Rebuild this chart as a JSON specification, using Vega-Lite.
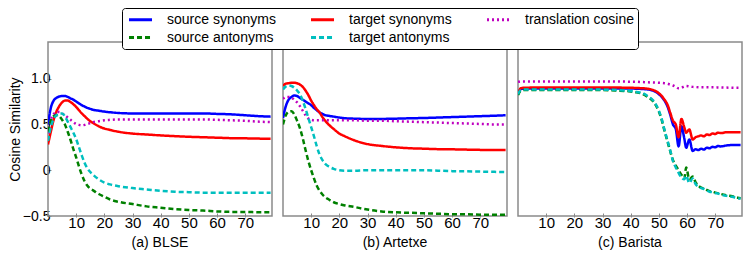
{
  "$schema": "https://vega.github.io/schema/vega-lite/v6.json",
  "background": "white",
  "padding": {"left": 8, "top": 7, "right": 5, "bottom": 5},
  "data": {"values": [
    {"m":"(a) BLSE","x":0,"ss":0.50,"ts":0.28,"tc":0.40,"sa":0.42,"ta":0.32},
    {"m":"(a) BLSE","x":1,"ss":0.68,"ts":0.42,"tc":0.55,"sa":0.54,"ta":0.47},
    {"m":"(a) BLSE","x":2,"ss":0.76,"ts":0.55,"tc":0.61,"sa":0.59,"ta":0.56},
    {"m":"(a) BLSE","x":3,"ss":0.79,"ts":0.64,"tc":0.635,"sa":0.60,"ta":0.60},
    {"m":"(a) BLSE","x":4,"ss":0.805,"ts":0.70,"tc":0.635,"sa":0.59,"ta":0.62},
    {"m":"(a) BLSE","x":5,"ss":0.81,"ts":0.74,"tc":0.62,"sa":0.55,"ta":0.62},
    {"m":"(a) BLSE","x":6,"ss":0.81,"ts":0.76,"tc":0.60,"sa":0.50,"ta":0.59},
    {"m":"(a) BLSE","x":7,"ss":0.80,"ts":0.76,"tc":0.575,"sa":0.42,"ta":0.53},
    {"m":"(a) BLSE","x":8,"ss":0.785,"ts":0.745,"tc":0.55,"sa":0.33,"ta":0.47},
    {"m":"(a) BLSE","x":9,"ss":0.77,"ts":0.72,"tc":0.525,"sa":0.23,"ta":0.41},
    {"m":"(a) BLSE","x":10,"ss":0.75,"ts":0.69,"tc":0.505,"sa":0.14,"ta":0.34},
    {"m":"(a) BLSE","x":11,"ss":0.73,"ts":0.655,"tc":0.495,"sa":0.04,"ta":0.25},
    {"m":"(a) BLSE","x":12,"ss":0.71,"ts":0.62,"tc":0.49,"sa":-0.05,"ta":0.16},
    {"m":"(a) BLSE","x":13,"ss":0.695,"ts":0.59,"tc":0.495,"sa":-0.12,"ta":0.08},
    {"m":"(a) BLSE","x":14,"ss":0.68,"ts":0.56,"tc":0.505,"sa":-0.17,"ta":0.02},
    {"m":"(a) BLSE","x":15,"ss":0.67,"ts":0.535,"tc":0.515,"sa":-0.20,"ta":-0.02},
    {"m":"(a) BLSE","x":16,"ss":0.66,"ts":0.515,"tc":0.525,"sa":-0.22,"ta":-0.05},
    {"m":"(a) BLSE","x":18,"ss":0.65,"ts":0.48,"tc":0.535,"sa":-0.26,"ta":-0.10},
    {"m":"(a) BLSE","x":20,"ss":0.64,"ts":0.455,"tc":0.545,"sa":-0.29,"ta":-0.135},
    {"m":"(a) BLSE","x":22,"ss":0.633,"ts":0.44,"tc":0.55,"sa":-0.32,"ta":-0.155},
    {"m":"(a) BLSE","x":25,"ss":0.625,"ts":0.42,"tc":0.555,"sa":-0.345,"ta":-0.175},
    {"m":"(a) BLSE","x":30,"ss":0.62,"ts":0.40,"tc":0.555,"sa":-0.37,"ta":-0.195},
    {"m":"(a) BLSE","x":35,"ss":0.62,"ts":0.39,"tc":0.555,"sa":-0.395,"ta":-0.21},
    {"m":"(a) BLSE","x":40,"ss":0.62,"ts":0.38,"tc":0.555,"sa":-0.41,"ta":-0.225},
    {"m":"(a) BLSE","x":45,"ss":0.62,"ts":0.372,"tc":0.555,"sa":-0.425,"ta":-0.235},
    {"m":"(a) BLSE","x":50,"ss":0.62,"ts":0.365,"tc":0.555,"sa":-0.435,"ta":-0.24},
    {"m":"(a) BLSE","x":55,"ss":0.62,"ts":0.36,"tc":0.555,"sa":-0.44,"ta":-0.245},
    {"m":"(a) BLSE","x":60,"ss":0.615,"ts":0.355,"tc":0.55,"sa":-0.45,"ta":-0.245},
    {"m":"(a) BLSE","x":65,"ss":0.61,"ts":0.35,"tc":0.545,"sa":-0.455,"ta":-0.245},
    {"m":"(a) BLSE","x":70,"ss":0.60,"ts":0.348,"tc":0.54,"sa":-0.455,"ta":-0.245},
    {"m":"(a) BLSE","x":75,"ss":0.59,"ts":0.345,"tc":0.53,"sa":-0.46,"ta":-0.245},
    {"m":"(a) BLSE","x":79,"ss":0.585,"ts":0.343,"tc":0.525,"sa":-0.46,"ta":-0.245},
    {"m":"(b) Artetxe","x":0,"ss":0.57,"ts":0.92,"tc":0.78,"sa":0.50,"ta":0.88},
    {"m":"(b) Artetxe","x":1,"ss":0.70,"ts":0.945,"tc":0.80,"sa":0.60,"ta":0.915},
    {"m":"(b) Artetxe","x":2,"ss":0.77,"ts":0.95,"tc":0.80,"sa":0.64,"ta":0.925},
    {"m":"(b) Artetxe","x":3,"ss":0.80,"ts":0.955,"tc":0.79,"sa":0.645,"ta":0.92},
    {"m":"(b) Artetxe","x":4,"ss":0.815,"ts":0.955,"tc":0.77,"sa":0.61,"ta":0.90},
    {"m":"(b) Artetxe","x":5,"ss":0.81,"ts":0.95,"tc":0.74,"sa":0.54,"ta":0.87},
    {"m":"(b) Artetxe","x":6,"ss":0.79,"ts":0.935,"tc":0.70,"sa":0.46,"ta":0.83},
    {"m":"(b) Artetxe","x":7,"ss":0.77,"ts":0.91,"tc":0.65,"sa":0.35,"ta":0.76},
    {"m":"(b) Artetxe","x":8,"ss":0.75,"ts":0.87,"tc":0.60,"sa":0.22,"ta":0.67},
    {"m":"(b) Artetxe","x":9,"ss":0.73,"ts":0.82,"tc":0.565,"sa":0.10,"ta":0.57},
    {"m":"(b) Artetxe","x":10,"ss":0.71,"ts":0.76,"tc":0.55,"sa":0.0,"ta":0.47},
    {"m":"(b) Artetxe","x":11,"ss":0.68,"ts":0.71,"tc":0.545,"sa":-0.09,"ta":0.37},
    {"m":"(b) Artetxe","x":12,"ss":0.655,"ts":0.665,"tc":0.545,"sa":-0.17,"ta":0.26},
    {"m":"(b) Artetxe","x":13,"ss":0.63,"ts":0.63,"tc":0.545,"sa":-0.225,"ta":0.17},
    {"m":"(b) Artetxe","x":14,"ss":0.615,"ts":0.58,"tc":0.545,"sa":-0.265,"ta":0.11},
    {"m":"(b) Artetxe","x":15,"ss":0.60,"ts":0.54,"tc":0.545,"sa":-0.295,"ta":0.07},
    {"m":"(b) Artetxe","x":16,"ss":0.595,"ts":0.505,"tc":0.545,"sa":-0.315,"ta":0.045},
    {"m":"(b) Artetxe","x":18,"ss":0.585,"ts":0.45,"tc":0.545,"sa":-0.35,"ta":0.015},
    {"m":"(b) Artetxe","x":20,"ss":0.575,"ts":0.40,"tc":0.545,"sa":-0.37,"ta":0.0},
    {"m":"(b) Artetxe","x":22,"ss":0.568,"ts":0.37,"tc":0.545,"sa":-0.385,"ta":-0.005},
    {"m":"(b) Artetxe","x":25,"ss":0.563,"ts":0.33,"tc":0.545,"sa":-0.40,"ta":-0.005},
    {"m":"(b) Artetxe","x":30,"ss":0.56,"ts":0.285,"tc":0.54,"sa":-0.43,"ta":0.0},
    {"m":"(b) Artetxe","x":35,"ss":0.56,"ts":0.265,"tc":0.54,"sa":-0.45,"ta":0.0},
    {"m":"(b) Artetxe","x":40,"ss":0.563,"ts":0.25,"tc":0.535,"sa":-0.46,"ta":0.0},
    {"m":"(b) Artetxe","x":45,"ss":0.567,"ts":0.24,"tc":0.53,"sa":-0.465,"ta":0.0},
    {"m":"(b) Artetxe","x":50,"ss":0.57,"ts":0.235,"tc":0.525,"sa":-0.47,"ta":0.0},
    {"m":"(b) Artetxe","x":55,"ss":0.575,"ts":0.23,"tc":0.52,"sa":-0.475,"ta":-0.005},
    {"m":"(b) Artetxe","x":60,"ss":0.58,"ts":0.228,"tc":0.515,"sa":-0.48,"ta":-0.01},
    {"m":"(b) Artetxe","x":65,"ss":0.585,"ts":0.225,"tc":0.51,"sa":-0.48,"ta":-0.012},
    {"m":"(b) Artetxe","x":70,"ss":0.59,"ts":0.222,"tc":0.505,"sa":-0.485,"ta":-0.015},
    {"m":"(b) Artetxe","x":75,"ss":0.595,"ts":0.22,"tc":0.50,"sa":-0.485,"ta":-0.018},
    {"m":"(b) Artetxe","x":79,"ss":0.60,"ts":0.22,"tc":0.50,"sa":-0.485,"ta":-0.02},
    {"m":"(c) Barista","x":0,"ss":0.83,"ts":0.83,"tc":0.965,"sa":0.82,"ta":0.83},
    {"m":"(c) Barista","x":1,"ss":0.885,"ts":0.895,"tc":0.97,"sa":0.87,"ta":0.875},
    {"m":"(c) Barista","x":2,"ss":0.89,"ts":0.90,"tc":0.97,"sa":0.875,"ta":0.88},
    {"m":"(c) Barista","x":5,"ss":0.893,"ts":0.902,"tc":0.97,"sa":0.875,"ta":0.88},
    {"m":"(c) Barista","x":10,"ss":0.893,"ts":0.902,"tc":0.97,"sa":0.875,"ta":0.88},
    {"m":"(c) Barista","x":20,"ss":0.893,"ts":0.902,"tc":0.97,"sa":0.875,"ta":0.88},
    {"m":"(c) Barista","x":30,"ss":0.893,"ts":0.902,"tc":0.97,"sa":0.875,"ta":0.88},
    {"m":"(c) Barista","x":35,"ss":0.893,"ts":0.902,"tc":0.968,"sa":0.87,"ta":0.875},
    {"m":"(c) Barista","x":40,"ss":0.892,"ts":0.90,"tc":0.967,"sa":0.86,"ta":0.865},
    {"m":"(c) Barista","x":42,"ss":0.89,"ts":0.898,"tc":0.966,"sa":0.85,"ta":0.855},
    {"m":"(c) Barista","x":44,"ss":0.887,"ts":0.895,"tc":0.963,"sa":0.835,"ta":0.845},
    {"m":"(c) Barista","x":46,"ss":0.882,"ts":0.89,"tc":0.96,"sa":0.80,"ta":0.81},
    {"m":"(c) Barista","x":48,"ss":0.868,"ts":0.875,"tc":0.957,"sa":0.75,"ta":0.76},
    {"m":"(c) Barista","x":50,"ss":0.83,"ts":0.84,"tc":0.955,"sa":0.64,"ta":0.65},
    {"m":"(c) Barista","x":51,"ss":0.80,"ts":0.81,"tc":0.953,"sa":0.55,"ta":0.56},
    {"m":"(c) Barista","x":52,"ss":0.76,"ts":0.77,"tc":0.95,"sa":0.43,"ta":0.44},
    {"m":"(c) Barista","x":53,"ss":0.70,"ts":0.72,"tc":0.945,"sa":0.32,"ta":0.33},
    {"m":"(c) Barista","x":54,"ss":0.61,"ts":0.63,"tc":0.935,"sa":0.21,"ta":0.22},
    {"m":"(c) Barista","x":55,"ss":0.50,"ts":0.54,"tc":0.925,"sa":0.11,"ta":0.10},
    {"m":"(c) Barista","x":56,"ss":0.45,"ts":0.50,"tc":0.91,"sa":0.05,"ta":0.03},
    {"m":"(c) Barista","x":57,"ss":0.26,"ts":0.36,"tc":0.895,"sa":0.0,"ta":-0.03},
    {"m":"(c) Barista","x":58,"ss":0.48,"ts":0.56,"tc":0.90,"sa":-0.05,"ta":-0.08},
    {"m":"(c) Barista","x":59,"ss":0.35,"ts":0.47,"tc":0.915,"sa":-0.09,"ta":-0.10},
    {"m":"(c) Barista","x":59.7,"ss":0.245,"ts":0.41,"tc":0.92,"sa":0.03,"ta":-0.06},
    {"m":"(c) Barista","x":60.8,"ss":0.335,"ts":0.445,"tc":0.915,"sa":-0.10,"ta":-0.14},
    {"m":"(c) Barista","x":62,"ss":0.21,"ts":0.335,"tc":0.91,"sa":-0.07,"ta":-0.09},
    {"m":"(c) Barista","x":63,"ss":0.23,"ts":0.36,"tc":0.908,"sa":-0.13,"ta":-0.15},
    {"m":"(c) Barista","x":64,"ss":0.22,"ts":0.37,"tc":0.906,"sa":-0.17,"ta":-0.18},
    {"m":"(c) Barista","x":65,"ss":0.235,"ts":0.38,"tc":0.905,"sa":-0.19,"ta":-0.195},
    {"m":"(c) Barista","x":66,"ss":0.225,"ts":0.37,"tc":0.905,"sa":-0.20,"ta":-0.205},
    {"m":"(c) Barista","x":67,"ss":0.245,"ts":0.39,"tc":0.905,"sa":-0.215,"ta":-0.22},
    {"m":"(c) Barista","x":68,"ss":0.24,"ts":0.385,"tc":0.905,"sa":-0.23,"ta":-0.235},
    {"m":"(c) Barista","x":69,"ss":0.255,"ts":0.40,"tc":0.905,"sa":-0.235,"ta":-0.24},
    {"m":"(c) Barista","x":70,"ss":0.25,"ts":0.395,"tc":0.905,"sa":-0.245,"ta":-0.25},
    {"m":"(c) Barista","x":71,"ss":0.265,"ts":0.41,"tc":0.904,"sa":-0.25,"ta":-0.255},
    {"m":"(c) Barista","x":72,"ss":0.26,"ts":0.405,"tc":0.903,"sa":-0.26,"ta":-0.265},
    {"m":"(c) Barista","x":74,"ss":0.27,"ts":0.415,"tc":0.902,"sa":-0.275,"ta":-0.28},
    {"m":"(c) Barista","x":76,"ss":0.275,"ts":0.415,"tc":0.901,"sa":-0.285,"ta":-0.29},
    {"m":"(c) Barista","x":78,"ss":0.275,"ts":0.415,"tc":0.90,"sa":-0.30,"ta":-0.305},
    {"m":"(c) Barista","x":79,"ss":0.275,"ts":0.415,"tc":0.90,"sa":-0.305,"ta":-0.31}
  ]},
  "transform": [{"fold": ["ss", "ts", "tc", "sa", "ta"], "as": ["series", "value"]}],
  "facet": {"column": {"field": "m", "type": "nominal", "header": {"title": null, "labelOrient": "bottom", "labelFontSize": 14, "labelFont": "Liberation Sans", "labelColor": "black", "labelPadding": 6}}},
  "spacing": 9,
  "spec": {
    "width": 224,
    "height": 174,
    "mark": {"type": "line", "interpolate": "monotone", "strokeWidth": 2.5, "clip": true},
    "encoding": {
      "x": {"field": "x", "type": "quantitative", "scale": {"domain": [0, 79.5], "nice": false, "zero": false},
            "axis": {"title": null, "values": [10, 20, 30, 40, 50, 60, 70], "labelFontSize": 15, "tickSize": -4, "labelPadding": 2, "domain": false, "grid": false}},
      "y": {"field": "value", "type": "quantitative", "scale": {"domain": [-0.5, 1.4], "nice": false, "zero": false},
            "axis": {"title": "Cosine Similarity", "values": [-0.5, 0, 0.5, 1], "labelExpr": "datum.value == 0 ? '0' : format(datum.value, '.1f')", "labelFontSize": 14, "tickSize": -4, "labelPadding": 1, "titleFontSize": 14, "titleFontWeight": "normal", "titlePadding": 0, "domain": false, "grid": false}},
      "color": {"field": "series", "type": "nominal",
                "scale": {"domain": ["ss", "ts", "tc", "sa", "ta"], "range": ["#0000ff", "#ff0000", "#bf00bf", "#008000", "#00bfbf"]},
                "legend": {"title": null, "orient": "none", "legendX": 74, "legendY": -34, "columns": 3, "direction": "horizontal",
                           "labelExpr": "{'ss': 'source synonyms', 'ts': 'target synonyms', 'tc': 'translation cosine', 'sa': 'source antonyms', 'ta': 'target antonyms'}[datum.label]"}},
      "strokeDash": {"field": "series", "type": "nominal",
                "scale": {"domain": ["ss", "ts", "tc", "sa", "ta"], "range": [[1, 0], [1, 0], [2, 3], [5, 3], [5, 3]]},
                "legend": {"title": null, "orient": "none", "legendX": 74, "legendY": -34, "columns": 3, "direction": "horizontal",
                           "labelExpr": "{'ss': 'source synonyms', 'ts': 'target synonyms', 'tc': 'translation cosine', 'sa': 'source antonyms', 'ta': 'target antonyms'}[datum.label]"}}
    }
  },
  "config": {
    "font": "Liberation Sans",
    "view": {"stroke": "#8a8a8a", "strokeWidth": 1.5},
    "axis": {"labelColor": "black", "titleColor": "black", "tickColor": "#8a8a8a", "labelFont": "Liberation Sans", "titleFont": "Liberation Sans"},
    "legend": {"symbolType": "M-0.78,0H3.22", "symbolSize": 132.25, "symbolOffset": 0, "symbolStrokeWidth": 3, "labelFontSize": 14, "labelFont": "Liberation Sans", "labelColor": "black", "labelOffset": 26, "columnPadding": 29, "rowPadding": 3, "padding": 4, "gridAlign": "each", "fillColor": "white", "strokeColor": "black", "cornerRadius": 3, "labelLimit": 0}
  }
}
